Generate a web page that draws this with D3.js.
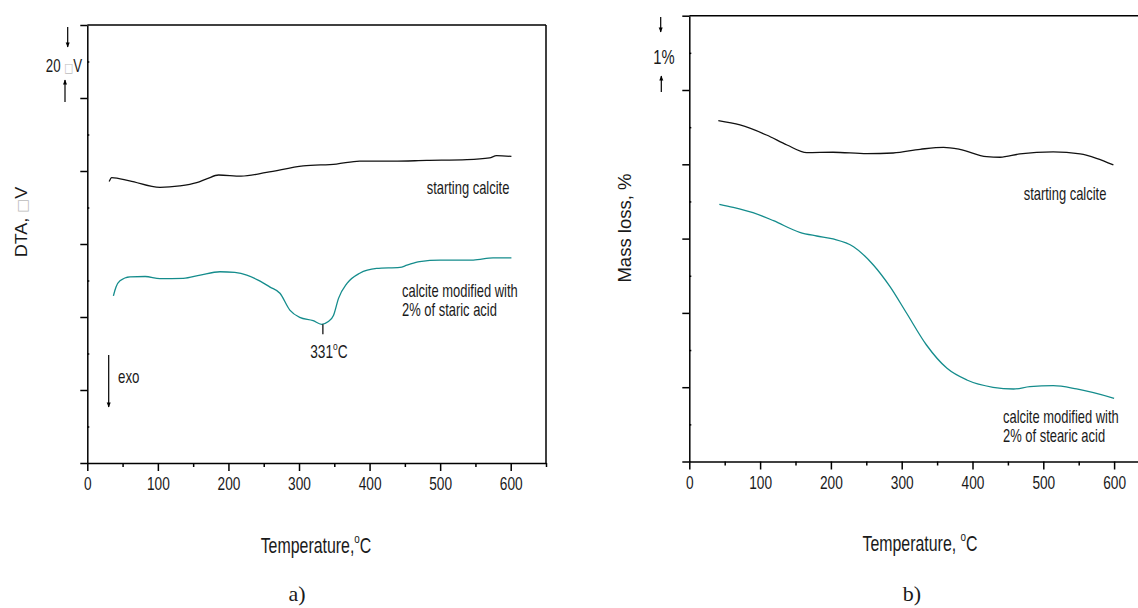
<!DOCTYPE html>
<html>
<head>
<meta charset="utf-8">
<script src="https://cdn.jsdelivr.net/npm/d3@7"></script>
<style>
body { margin: 0; background: #fff; }
text { font-family: "Liberation Sans", Arial, sans-serif; fill: #1a1a1a; }
.axis path, .axis line { stroke: #000; stroke-width: 1.5; }
.curve { fill: none; stroke-width: 1.3; }
</style>
</head>
<body>
<svg id="chart" width="1138" height="608"></svg>
<script>
// temperature ticks, shared by both panels
const tempTicks = [0, 100, 200, 300, 400, 500, 600];
const tempMinor = [50, 150, 250, 350, 450, 550, 650];

// a) DTA, µV (offset scale, one major step = 20 µV)
const dtaTicks = [0, 20, 40, 60, 80, 100, 120];
const dtaMinor = [10, 30, 50, 70, 90, 110];
const dtaStarting = [[31, 77.1], [34.6, 78.2], [60, 77.3], [103, 75.5], [131, 75.9], [155, 76.8],
    [170, 77.9], [186, 78.9], [218, 78.6], [254, 79.6], [306, 81.4], [353, 81.9], [386, 82.7], [434, 82.7],
    [481, 82.9], [538, 83.1], [570, 83.6], [580, 84.2], [601, 84.0]];
const dtaModified = [[37, 45.8], [40.7, 48.2], [46.3, 49.9], [60.5, 51.0], [82, 51.1], [103, 50.5],
    [136, 50.6], [160, 51.5], [188, 52.4], [209, 52.2], [226, 51.5], [242, 50.1], [259, 48.2],
    [273, 46.5], [287, 41.9], [301, 39.9], [320, 39.0], [332, 38.0], [341, 38.7], [349, 40.5],
    [356, 45.1], [368, 49.2], [386, 52.0], [410, 53.3], [443, 53.6], [453, 54.2], [471, 55.2],
    [500, 55.6], [547, 55.6], [575, 56.2], [601, 56.2]];
const dtaPeak = 331;

// b) mass loss, % (one major step = 1 %)
const tgTicks = [0, 1, 2, 3, 4, 5, 6];
const tgMinor = [0.5, 1.5, 2.5, 3.5, 4.5, 5.5];
const tgStarting = [[41, 4.587], [71.6, 4.529], [109, 4.394], [138, 4.260], [166, 4.157], [203, 4.162],
    [251, 4.143], [288, 4.152], [326, 4.202], [359, 4.229], [382, 4.202], [420, 4.103], [439, 4.095],
    [467, 4.139], [514, 4.166], [552, 4.139], [575, 4.081], [599, 3.991]];
const tgModified = [[42.4, 3.462], [62, 3.421], [90, 3.349], [119, 3.241], [156, 3.085], [180, 3.035],
    [203, 2.995], [232, 2.891], [260, 2.645], [283.5, 2.353], [307, 1.995], [335, 1.568], [364, 1.254],
    [392, 1.097], [429, 0.999], [458, 0.976], [481, 1.007], [514, 1.020], [547, 0.976], [600, 0.851]];

const d3 = window.d3;
const svg = d3.select("#chart");
const SX = 0.74; // the figure's lettering is narrow and tall

let defs = svg.append("defs");
defs.append("marker")
    .attr("id", "head")
    .attr("viewBox", "0 0 10 10")
    .attr("refX", 9).attr("refY", 5)
    .attr("markerWidth", 8).attr("markerHeight", 5)
    .attr("markerUnits", "userSpaceOnUse")
    .attr("orient", "auto")
    .append("path").attr("d", "M0,1 L10,5 L0,9 Z").attr("fill", "#000");

let label = (g, x, y, str, size, anchor) => {
    return g.append("text")
        .attr("transform", "translate(" + x + "," + y + ") scale(" + SX + ",1)")
        .attr("text-anchor", anchor || "start")
        .style("font-size", size + "px")
        .text(str);
};

let degLabel = (g, x, y, head, tail, size, anchor) => {
    let t = label(g, x, y, head, size, anchor);
    t.append("tspan").attr("dy", -size * 0.45).style("font-size", (size * 0.62) + "px").text("o");
    t.append("tspan").attr("dy", size * 0.45).text(tail);
    return t;
};

let arrow = (x, y1, y2) => {
    svg.append("line")
        .attr("x1", x).attr("x2", x).attr("y1", y1).attr("y2", y2)
        .attr("stroke", "#000").attr("stroke-width", 1.2)
        .attr("marker-end", "url(#head)");
};

let drawPanel = (p) => {
    let x = d3.scaleLinear().domain([0, 650]).range(p.xRange);
    let y = d3.scaleLinear().domain(p.yDomain).range(p.yRange);
    let g = svg.append("g");

    // frame top and right
    g.append("line").attr("x1", x(0)).attr("x2", x(650)).attr("y1", y(p.yDomain[1])).attr("y2", y(p.yDomain[1]))
        .attr("stroke", "#000").attr("stroke-width", 1.5);
    g.append("line").attr("x1", x(650)).attr("x2", x(650)).attr("y1", y(p.yDomain[0])).attr("y2", y(p.yDomain[1]))
        .attr("stroke", "#000").attr("stroke-width", 1.5);

    // x axis
    let xa = g.append("g").attr("class", "axis")
        .attr("transform", "translate(0," + y(p.yDomain[0]) + ")")
        .call(d3.axisBottom(x).tickValues(tempTicks).tickSize(8).tickSizeOuter(0).tickPadding(6));
    xa.selectAll("text")
        .attr("transform", "scale(" + SX + ",1)")
        .style("font-size", "18.5px")
        .style("font-family", "Liberation Sans, Arial, sans-serif")
        .attr("fill", "#1a1a1a");
    g.append("g").attr("class", "axis")
        .attr("transform", "translate(0," + y(p.yDomain[0]) + ")")
        .call(d3.axisBottom(x).tickValues(tempMinor).tickSize(4).tickSizeOuter(0).tickFormat(""))
        .select(".domain").remove();

    // y axis: major ticks outside, minor ticks inside
    g.append("g").attr("class", "axis")
        .attr("transform", "translate(" + x(0) + ",0)")
        .call(d3.axisLeft(y).tickValues(p.yTicks).tickSize(7).tickSizeOuter(0).tickFormat(""));
    g.append("g").attr("class", "axis")
        .attr("transform", "translate(" + x(0) + ",0)")
        .call(d3.axisRight(y).tickValues(p.yMinor).tickSize(2).tickFormat(""))
        .select(".domain").remove();

    // curves
    let line = d3.line().x(d => x(d[0])).y(d => y(d[1])).curve(d3.curveMonotoneX);
    g.append("path").datum(p.starting).attr("class", "curve").attr("stroke", "#111").attr("d", line);
    g.append("path").datum(p.modified).attr("class", "curve").attr("stroke", "#148c8c").attr("d", line);

    return {x: x, y: y, g: g};
};

// rotated titles: letters keep their width, stretched slightly along the line
let yTitle = (x, y, str, size) => {
    return svg.append("text")
        .attr("transform", "translate(" + x + "," + y + ") rotate(-90) scale(1.06,1)")
        .attr("text-anchor", "middle")
        .style("font-size", size + "px")
        .text(str);
};

/************* a) DTA ***********/
let a = drawPanel({
    xRange: [87.3, 546], yDomain: [0, 120], yRange: [463, 25],
    yTicks: dtaTicks, yMinor: dtaMinor, starting: dtaStarting, modified: dtaModified
});
label(a.g, 468, 194, "starting calcite", 17.5, "middle");
label(a.g, 402, 297, "calcite modified with", 17.5, "start");
label(a.g, 402, 316, "2% of staric acid", 17.5, "start");
a.g.append("line")
    .attr("x1", a.x(dtaPeak) + 2).attr("x2", a.x(dtaPeak) + 2)
    .attr("y1", a.y(38.0)).attr("y2", a.y(35.3))
    .attr("stroke", "#000").attr("stroke-width", 1.2);
degLabel(a.g, a.x(dtaPeak) + 8, 358, "331", "C", 18.5, "middle");
degLabel(a.g, 316, 553, "Temperature,", "C", 21.5, "middle");
let ya = yTitle(27, 222, "DTA, ", 17);
ya.append("tspan").style("fill", "#bbb").style("font-family", "DejaVu Sans").style("font-size", "14px").text("\u25A1");
ya.append("tspan").text("V");
let sa = label(svg, 64, 72, "20 ", 18, "middle");
sa.append("tspan").style("fill", "#bbb").style("font-family", "DejaVu Sans").style("font-size", "13px").text("\u25A1");
sa.append("tspan").text("V");
arrow(67.7, 27, 47);
arrow(65, 102, 80);
arrow(108.7, 355, 407);
label(svg, 118, 383, "exo", 18, "start");

/************* b) mass loss ***********/
let b = drawPanel({
    xRange: [689.3, 689.3 + 650 * 0.708], yDomain: [0, 6], yRange: [461.5, 15.7],
    yTicks: tgTicks, yMinor: tgMinor, starting: tgStarting, modified: tgModified
});
label(b.g, 1065, 200, "starting calcite", 17.5, "middle");
label(b.g, 1003, 423, "calcite modified with", 17.5, "start");
label(b.g, 1003, 442, "2% of stearic acid", 17.5, "start");
degLabel(b.g, 920, 551, "Temperature, ", "C", 21.5, "middle");
yTitle(631, 228, "Mass loss, %", 17.5);
label(svg, 664, 64, "1%", 20, "middle");
arrow(660.7, 17, 32);
arrow(661.3, 92, 76);

// panel captions
svg.append("text").attr("x", 297).attr("y", 601).attr("text-anchor", "middle")
    .style("font-family", "Liberation Serif, Times New Roman, serif").style("font-size", "22px").text("a)");
svg.append("text").attr("x", 912).attr("y", 601).attr("text-anchor", "middle")
    .style("font-family", "Liberation Serif, Times New Roman, serif").style("font-size", "22px").text("b)");
</script>
</body>
</html>
